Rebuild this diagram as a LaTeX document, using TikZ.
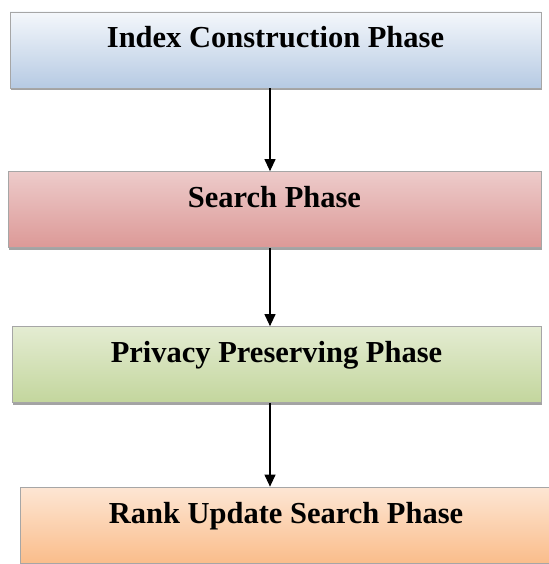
\documentclass[tikz,border=0pt]{standalone}
\usepackage{fontspec}
\setmainfont{Liberation Serif}
\usetikzlibrary{arrows.meta,shadows}
\definecolor{bTop}{HTML}{F4F7FB}
\definecolor{bBot}{HTML}{B6CAE3}
\definecolor{rTop}{HTML}{EDCBCA}
\definecolor{rMid}{HTML}{F4E0DF}
\definecolor{rBot}{HTML}{DC9997}
\definecolor{gTop}{HTML}{E4ECD2}
\definecolor{gMid}{HTML}{EEF4E4}
\definecolor{gBot}{HTML}{C3D69D}
\definecolor{oTop}{HTML}{FDE6D4}
\definecolor{oMid}{HTML}{FCDCC2}
\definecolor{oBot}{HTML}{FABD8B}
\definecolor{edge}{HTML}{A6A6A6}
\tikzset{
  phase/.style={draw=edge, line width=0.7pt, rectangle, minimum height=76pt,
    font=\fontsize{30.5}{36}\selectfont\bfseries, text height=20pt, text depth=24pt,
    inner sep=0pt,
    drop shadow={shadow xshift=1.2pt, shadow yshift=-2.2pt, fill=black!45, opacity=0.8}},
  flow/.style={-{Triangle[width=11pt,length=12pt]}, line width=1.1pt, black}
}
\begin{document}
\begin{tikzpicture}[x=1pt,y=-1pt]
\useasboundingbox (0,0) rectangle (548,564);
\fill[white] (0,0) rectangle (548,564);
\node[phase, minimum width=531pt, top color=bTop, bottom color=bBot] (p1) at (275.5,50) {Index Construction Phase};
\node[phase, minimum width=533pt, top color=rTop, middle color=rMid, bottom color=rBot] (p2) at (274.5,209.5) {Search Phase};
\node[phase, minimum width=529pt, top color=gTop, middle color=gMid, bottom color=gBot] (p3) at (276.5,364.5) {Privacy Preserving Phase};
\node[phase, minimum width=532pt, top color=oTop, middle color=oMid, bottom color=oBot] (p4) at (286,525) {Rank Update Search Phase};
\coordinate (ax) at (270,0);
\draw[flow] (p1.south -| ax) -- (p2.north -| ax);
\draw[flow] (p2.south -| ax) -- (p3.north -| ax);
\draw[flow] (p3.south -| ax) -- (p4.north -| ax);
\end{tikzpicture}
\end{document}
